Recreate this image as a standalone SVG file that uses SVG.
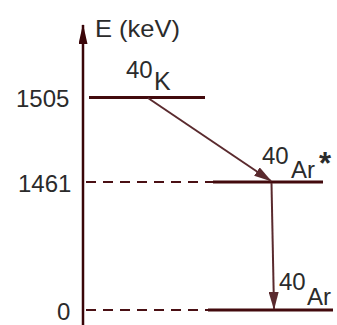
<svg xmlns="http://www.w3.org/2000/svg" width="337" height="325" viewBox="0 0 337 325">
<style>
text{font-family:"Liberation Sans",Arial,sans-serif;fill:#2b2b2b;font-size:24px}
.lvl{stroke:#420a0d;stroke-width:3;fill:none}
.dash{stroke:#4a1014;stroke-width:2;stroke-dasharray:10 7;fill:none}
.tr{stroke:#5a2a2e;stroke-width:2;fill:none}
</style>
<defs>
<marker id="ah" markerWidth="18" markerHeight="10" refX="17" refY="5" orient="auto" markerUnits="userSpaceOnUse">
<path d="M0,0 L18,5 L0,10 Z" fill="#5a2a2e"/>
</marker>
<marker id="ax" markerWidth="20" markerHeight="9" refX="19" refY="4.5" orient="auto" markerUnits="userSpaceOnUse">
<path d="M0,0 L20,4.5 L0,9 Z" fill="#3a0508"/>
</marker>
</defs>
<g id="axis">
<line x1="83" y1="325" x2="83" y2="25" stroke="#3a0508" stroke-width="2.5" marker-end="url(#ax)"/>
<text x="95" y="37" textLength="85" lengthAdjust="spacingAndGlyphs">E (keV)</text>
<text x="16" y="107">1505</text>
<text x="18" y="192">1461</text>
<text x="57" y="320">0</text>
</g>
<g id="K40">
<line class="lvl" x1="89" y1="97.5" x2="205" y2="97.5"/>
<text x="126" y="78">40</text>
<text x="154" y="90" style="font-size:25px">K</text>
</g>
<g id="Ar40star">
<line class="dash" x1="86" y1="182" x2="213" y2="182"/>
<line class="lvl" x1="213" y1="182" x2="323" y2="182"/>
<text x="262" y="164">40</text>
<text x="291" y="178">Ar</text>
<text x="319" y="174" style="font-size:31px;font-weight:bold">*</text>
</g>
<g id="Ar40">
<line class="dash" x1="86" y1="310" x2="208" y2="310"/>
<line class="lvl" x1="208" y1="310" x2="333" y2="310"/>
<text x="279" y="290">40</text>
<text x="307" y="305">Ar</text>
</g>
<g id="connectors">
<line class="tr" x1="148" y1="98" x2="271" y2="181" marker-end="url(#ah)"/>
<line class="tr" x1="271.5" y1="183" x2="274" y2="309" marker-end="url(#ah)"/>
</g>
</svg>
